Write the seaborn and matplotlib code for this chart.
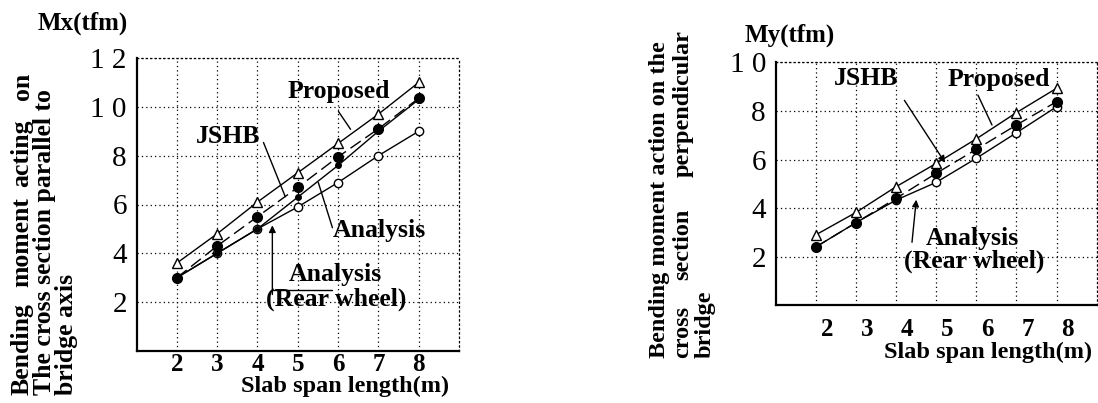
import matplotlib
matplotlib.use("Agg")
import matplotlib.pyplot as plt
import matplotlib.transforms as mtransforms
import seaborn as sns
import pandas as pd

# ---------------- data ----------------
span = [2, 3, 4, 5, 6, 7, 8]

mx_proposed = [3.6, 4.8, 6.1, 7.3, 8.5, 9.7, 11.0]
mx_jshb = [3.0, 4.3, 5.5, 6.7, 7.95, 9.1, 10.35]
mx_analysis = [3.0, 4.0, 5.0, 6.3, 7.6, 9.0, 10.3]
mx_rear = [3.0, 4.0, 5.0, 5.9, 6.9, 8.0, 9.0]

my_proposed = [2.9, 3.82, 4.88, 5.84, 6.85, 7.93, 8.93]
my_jshb = [2.4, 3.4, 4.4, 5.43, 6.42, 7.42, 8.38]
my_rear = [2.4, 3.4, 4.33, 5.06, 6.05, 7.1, 8.17]

x_ticks = [2, 3, 4, 5, 6, 7, 8]
mx_yticks = [2, 4, 6, 8, 10, 12]
mx_yticklabels = ["2", "4", "6", "8", "1 0", "1 2"]
my_yticks = [2, 4, 6, 8, 10]
my_yticklabels = ["2", "4", "6", "8", "1 0"]

# ---------------- style ----------------
sns.set_theme(style="white")
plt.rcParams["font.family"] = ["Liberation Serif", "DejaVu Serif"]

W, H = 1098, 403
fig = plt.figure(figsize=(W / 100, H / 100), dpi=100)
fig.patch.set_facecolor("white")


def px_ax(l, t, r, b):
    return fig.add_axes([l / W, 1 - b / H, (r - l) / W, (b - t) / H])


def ftext(x, y, s, **kw):
    fig.text(x / W, 1 - y / H, s, **kw)


BOLD = dict(fontweight="bold", color="black")


def style_axes(ax, ymax, yticks, ylabels, xlab_dy, xlab_dx):
    ax.set_xlim(1, 9)
    ax.set_ylim(0, ymax)
    ax.set_xticks(x_ticks)
    ax.set_xticklabels([str(v) for v in x_ticks], fontsize=18, fontweight="bold")
    ax.set_yticks(yticks)
    ax.set_yticklabels(ylabels, fontsize=21)
    ax.tick_params(axis="both", length=0, colors="black")
    ax.tick_params(axis="y", pad=7)
    ax.tick_params(axis="x", pad=xlab_dy)
    off = mtransforms.ScaledTranslation(xlab_dx / 100, 0, fig.dpi_scale_trans)
    for lab in ax.get_xticklabels():
        lab.set_transform(lab.get_transform() + off)
    ax.grid(True, color="black", linestyle=(0, (1, 2.5)), linewidth=0.9)
    ax.set_facecolor("white")
    for side in ["left", "bottom"]:
        ax.spines[side].set_color("black")
        ax.spines[side].set_linewidth(1.6)
    for side in ["top", "right"]:
        ax.spines[side].set_color("black")
        ax.spines[side].set_linewidth(0.9)
        ax.spines[side].set_linestyle((0, (1, 2.5)))
    ax.set_xlabel("")
    ax.set_ylabel("")


def series(ax, y, marker, mfc, ms, dashes=None, z=3):
    df = pd.DataFrame({"span": span, "m": y})
    kw = dict(data=df, x="span", y="m", ax=ax, color="black", linewidth=1.0,
              marker=marker, markersize=ms, markerfacecolor=mfc,
              markeredgecolor="black", markeredgewidth=1.0, zorder=z)
    if dashes is not None:
        kw["dashes"] = dashes
        kw["style"] = [0] * len(span)
        kw["legend"] = False
    sns.lineplot(**kw)


# ---------------- left chart (Mx) ----------------
axL = px_ax(136.5, 58, 459, 351)
series(axL, mx_rear, "o", "white", 6)
series(axL, mx_analysis, "o", "black", 4)
series(axL, mx_jshb, "o", "black", 7, dashes=[(9, 4)])
series(axL, mx_proposed, "^", "white", 7)
style_axes(axL, 12, mx_yticks, mx_yticklabels, 1.5, 0)

txt = dict(fontsize=18.5, fontweight="bold", color="black", ha="center", va="center")
axL.text(6.01, 10.64, "Proposed", **txt)
axL.plot([6.01, 6.31], [9.81, 9.08], color="black", lw=1.0)
axL.text(3.28, 8.79, "JSHB", **txt)
axL.plot([4.15, 4.69], [8.54, 6.32], color="black", lw=1.0)
axL.text(7.03, 4.95, "Analysis", **txt)
axL.plot([5.86, 5.51], [5.05, 6.9], color="black", lw=1.0)
axL.text(5.93, 3.15, "Analysis", **txt)
axL.text(5.96, 2.12, "(Rear wheel)", **txt)
axL.plot([4.37, 5.85], [2.5, 2.5], color="black", lw=1.0)
axL.annotate("", xy=(4.37, 5.26), xytext=(4.37, 2.2),
             arrowprops=dict(arrowstyle="-|>", color="black", lw=1.0, mutation_scale=10))

ftext(83, 23, "Mx(tfm)", fontsize=18, ha="center", va="center", **BOLD)
ftext(345, 386, "Slab span length(m)", fontsize=17.5, ha="center", va="center", **BOLD)

ylL = dict(fontsize=18.5, rotation=90, ha="center", **BOLD)
ftext(22, 395, "Bending", va="bottom", **ylL)
ftext(22, 287, "moment", va="bottom", **ylL)
ftext(22, 187, "acting", va="bottom", **ylL)
ftext(22, 100, "on", va="bottom", **ylL)
ftext(45, 395, "The cross section parallel to", va="bottom", **ylL)
ftext(67, 395, "bridge axis", va="bottom", **ylL)

# ---------------- right chart (My) ----------------
axR = px_ax(775.7, 62.3, 1096.7, 305.3)
series(axR, my_rear, "o", "white", 6)
series(axR, my_jshb, "o", "black", 7, dashes=[(9, 4)])
series(axR, my_proposed, "^", "white", 7)
style_axes(axR, 10, my_yticks, my_yticklabels, 9, 11)

axR.text(3.25, 9.35, "JSHB", **txt)
axR.annotate("", xy=(5.26, 5.77), xytext=(4.17, 8.53),
             arrowprops=dict(arrowstyle="-|>", color="black", lw=1.0, mutation_scale=10))
axR.text(6.56, 9.31, "Proposed", **txt)
axR.plot([6.04, 6.39], [8.65, 7.42], color="black", lw=1.0)
axR.text(5.89, 2.76, "Analysis", **txt)
axR.text(5.94, 1.8, "(Rear wheel)", **txt)
axR.annotate("", xy=(4.51, 4.46), xytext=(4.39, 2.48),
             arrowprops=dict(arrowstyle="-|>", color="black", lw=1.0, mutation_scale=10))

ftext(790, 35, "My(tfm)", fontsize=18, ha="center", va="center", **BOLD)
ftext(988, 352, "Slab span length(m)", fontsize=17.5, ha="center", va="center", **BOLD)

ylR = dict(fontsize=17.5, rotation=90, ha="center", **BOLD)
ftext(660, 358, "Bending moment action on the", va="bottom", **ylR)
ftext(683, 358, "cross", va="bottom", **ylR)
ftext(683, 280, "section", va="bottom", **ylR)
ftext(683, 177, "perpendicular", va="bottom", **ylR)
ftext(705, 358, "bridge", va="bottom", **ylR)

fig.savefig("out.png", dpi=100, facecolor="white")
